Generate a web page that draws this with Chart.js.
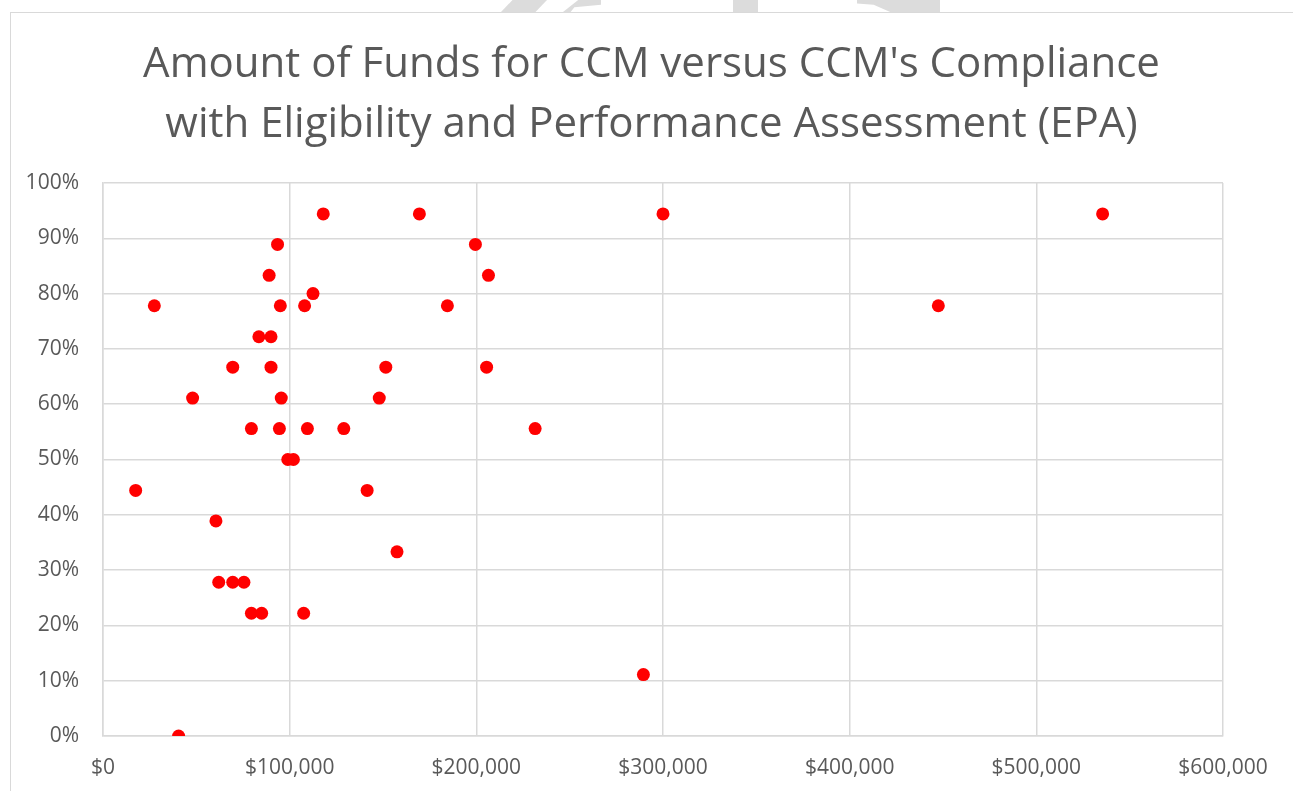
<!DOCTYPE html>
<html>
<head>
<meta charset="utf-8">
<title>Amount of Funds for CCM versus CCM's Compliance</title>
<script src="https://cdn.jsdelivr.net/npm/chart.js@4.4.1/dist/chart.umd.min.js"></script>
<style>
  html, body {
    margin: 0;
    padding: 0;
    background: #ffffff;
    overflow: hidden;
  }
  #page {
    position: relative;
    width: 1293px;
    height: 791px;
  }
  #frame {
    position: absolute;
    left: 10px;
    top: 12px;
    width: 1300px;
    height: 800px;
    border: 1px solid #d9d9d9;
    box-sizing: border-box;
  }
  .mark {
    position: absolute;
    top: 0;
    height: 12px;
    background: #dcdcdc;
  }
  #chartWrap {
    position: absolute;
    left: 10px;
    top: 0;
    width: 1283px;
    height: 791px;
  }
</style>
</head>
<body>
<div id="page">
  <div class="mark" style="left:501px;width:46px;clip-path:polygon(25% 0,100% 0,75% 100%,0 100%);"></div>
  <div class="mark" style="left:563px;width:38px;clip-path:polygon(40% 0,100% 0,100% 40%,30% 60%,20% 100%,0 100%);"></div>
  <div class="mark" style="left:733px;width:25px;"></div>
  <div class="mark" style="left:857px;width:83px;clip-path:polygon(0 0,100% 0,100% 100%,40% 100%,20% 40%,0 30%);"></div>
  <div id="frame"></div>
  <div id="chartWrap">
    <canvas id="scatterChart" width="1283" height="791"></canvas>
  </div>
</div>

<script>
// ========================================
// DATA
// ========================================
const chartTitle = [
  'Amount of Funds for CCM versus CCM\'s Compliance',
  'with Eligibility and Performance Assessment (EPA)'
];

// funds per CCM, in dollars
const fundsAmount = [
  118000, 169500, 300000, 535500,
  93500, 199500,
  89000, 206500,
  112500,
  27500, 95000, 108000, 184500, 447500,
  83500, 90000,
  69500, 90000, 151500, 205500,
  48000, 95500, 148000,
  79500, 94500, 109500, 129000, 231500,
  99000, 102000,
  17500, 141500,
  60500,
  157500,
  62000, 69500, 75500,
  79500, 85000, 107500,
  289500,
  40500
];

// EPA compliance, in percent
const epaCompliance = [
  94.4, 94.4, 94.4, 94.4,
  88.9, 88.9,
  83.3, 83.3,
  80.0,
  77.8, 77.8, 77.8, 77.8, 77.8,
  72.2, 72.2,
  66.7, 66.7, 66.7, 66.7,
  61.1, 61.1, 61.1,
  55.6, 55.6, 55.6, 55.6, 55.6,
  50.0, 50.0,
  44.4, 44.4,
  38.9,
  33.3,
  27.8, 27.8, 27.8,
  22.2, 22.2, 22.2,
  11.1,
  0.0
];

const xTickLabels = ['$0', '$100,000', '$200,000', '$300,000', '$400,000', '$500,000', '$600,000'];
const yTickLabels = ['0%', '10%', '20%', '30%', '40%', '50%', '60%', '70%', '80%', '90%', '100%'];

// ========================================
// BUILD CHART
// ========================================
const textColor = '#595959';
const gridColor = '#d9d9d9';
const fontFamily = '"Open Sans", "Liberation Sans", sans-serif';

const points = fundsAmount.map((amount, index) => ({
  x: amount,
  y: epaCompliance[index]
}));

const canvas = document.getElementById('scatterChart');

new Chart(canvas, {
  type: 'scatter',
  data: {
    datasets: [{
      label: 'CCM',
      data: points,
      backgroundColor: '#ff0000',
      borderColor: '#ff0000',
      borderWidth: 0,
      pointRadius: 6.5,
      pointHoverRadius: 6.5
    }]
  },
  options: {
    responsive: false,
    animation: false,
    devicePixelRatio: 1,
    layout: {
      padding: 0
    },
    plugins: {
      legend: { display: false },
      tooltip: { enabled: false },
      title: {
        display: true,
        text: chartTitle,
        color: textColor,
        font: { family: fontFamily, size: 42, weight: 'normal', lineHeight: 60 / 42 },
        padding: { top: 35, bottom: 28 }
      }
    },
    scales: {
      x: {
        type: 'linear',
        min: 0,
        max: 600000,
        afterFit: (scale) => { scale.height = 55; },
        afterBuildTicks: (scale) => {
          scale.ticks = xTickLabels.map((label, index) => ({ value: index * 100000 }));
        },
        grid: {
          color: gridColor,
          lineWidth: 1.5,
          drawTicks: false
        },
        border: { color: gridColor, width: 1.5 },
        ticks: {
          padding: 19,
          color: textColor,
          maxRotation: 0,
          font: { family: fontFamily, size: 21 },
          callback: (value, index) => xTickLabels[index]
        }
      },
      y: {
        type: 'linear',
        min: 0,
        max: 100,
        afterFit: (scale) => { scale.width = 93; },
        afterBuildTicks: (scale) => {
          scale.ticks = yTickLabels.map((label, index) => ({ value: index * 10 }));
        },
        grid: {
          color: gridColor,
          lineWidth: 1.5,
          drawTicks: false
        },
        border: { color: gridColor, width: 1.5 },
        ticks: {
          padding: 24,
          color: textColor,
          font: { family: fontFamily, size: 21 },
          callback: (value, index) => yTickLabels[index]
        }
      },
      // empty space on the right, so the title stays centred on the frame
      rightGap: {
        type: 'linear',
        position: 'right',
        afterFit: (scale) => { scale.width = 70; },
        grid: { display: false, drawTicks: false },
        border: { display: false },
        ticks: { display: false }
      }
    }
  }
});
</script>
</body>
</html>
